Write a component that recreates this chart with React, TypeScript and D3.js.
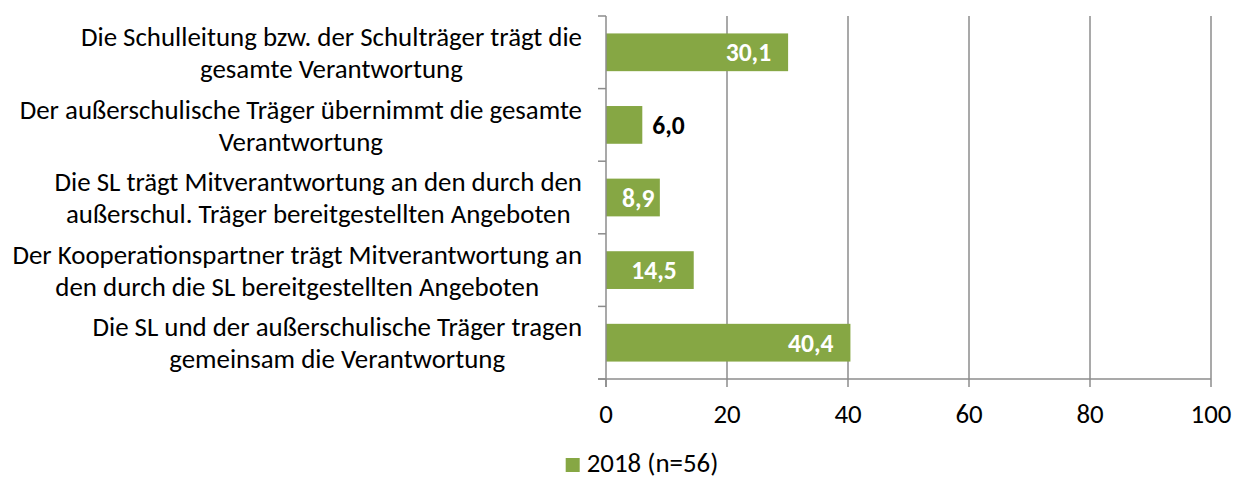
import * as d3 from 'd3';
import React, { useEffect, useRef } from 'react';

const categories: string[][] = [
    ['Die Schulleitung bzw. der Schulträger trägt die', 'gesamte Verantwortung'],
    ['Der außerschulische Träger übernimmt die gesamte', 'Verantwortung'],
    ['Die SL trägt Mitverantwortung an den durch den', 'außerschul. Träger bereitgestellten Angeboten'],
    ['Der Kooperationspartner trägt Mitverantwortung an', 'den durch die SL bereitgestellten Angeboten'],
    ['Die SL und der außerschulische Träger tragen', 'gemeinsam die Verantwortung'],
];
const values2018 = [30.1, 6.0, 8.9, 14.5, 40.4];
const xTicks = [0, 20, 40, 60, 80, 100];
const seriesName = '2018 (n=56)';

const WIDTH = 1234;
const HEIGHT = 480;
const FONT = 'Carlito, Calibri, "Open Sans", sans-serif';
const GREEN = '#86a744';
const GRID = '#8c8c8c';

export default function App() {
    const ref = useRef<SVGSVGElement | null>(null);

    useEffect(() => {
        const el = ref.current;
        if (!el) return;
        document.body.style.margin = '0';

        const left = 606, right = 1211, top = 16, bottom = 379;
        const x = d3.scaleLinear([0, 100], [left, right]);
        const y = d3.scaleBand<number>(d3.range(categories.length), [top, bottom]).paddingInner(0.48).paddingOuter(0.24);
        const band = (bottom - top) / categories.length;

        const svg = d3.select(el);
        svg.selectAll('*').remove();
        svg.attr('font-family', FONT);

        // category labels first, to find the font size that fits the reference width
        const labelRight = 582;
        const lineGap = 32;
        const groups = categories.map((lines, i) => {
            const cy = top + band * (i + 0.5);
            return svg.append('g').selectAll('text').data(lines).join('text')
                .attr('y', (_d, j) => cy + (j - (lines.length - 1) / 2) * lineGap)
                .attr('dy', '0.36em')
                .attr('text-anchor', 'middle')
                .attr('font-size', 20)
                .attr('fill', '#000')
                .text(d => d);
        });
        let widest = 0;
        groups.forEach(t => t.each(function () {
            widest = Math.max(widest, (this as SVGTextElement).getComputedTextLength());
        }));
        const fs = 20 * 570 / widest;
        groups.forEach(t => {
            t.attr('font-size', fs);
            let maxW = 0;
            t.each(function () {
                maxW = Math.max(maxW, (this as SVGTextElement).getComputedTextLength());
            });
            t.attr('x', labelRight - maxW / 2);
        });

        // vertical grid lines
        svg.append('g').selectAll('line').data(xTicks.slice(1)).join('line')
            .attr('x1', d => x(d)).attr('x2', d => x(d))
            .attr('y1', top).attr('y2', bottom)
            .attr('stroke', GRID).attr('stroke-width', 1.5);

        // bars
        svg.append('g').selectAll('rect').data(values2018).join('rect')
            .attr('x', x(0))
            .attr('y', (_d, i) => y(i)!)
            .attr('width', d => x(d) - x(0))
            .attr('height', y.bandwidth())
            .attr('fill', GREEN);

        // value labels: inside end, or outside when the bar is too short
        const fmt = (v: number) => v.toFixed(1).replace('.', ',');
        const vals = svg.append('g').selectAll('text').data(values2018).join('text')
            .attr('y', (_d, i) => y(i)! + y.bandwidth() / 2)
            .attr('dy', '0.36em')
            .attr('font-weight', 'bold')
            .attr('font-size', fs * 0.95)
            .attr('fill', d => d < 8 ? '#000' : '#fff')
            .text(d => fmt(d));
        vals.each(function (d) {
            const w = (this as SVGTextElement).getComputedTextLength();
            const start = d < 8 ? x(d) + 10 : Math.max(x(d) - 17, x(0) + 16 + w) - w;
            d3.select(this).attr('x', start);
        });

        // left axis
        svg.append('line')
            .attr('x1', left).attr('x2', left).attr('y1', top).attr('y2', bottom + 8)
            .attr('stroke', GRID).attr('stroke-width', 1.5);
        svg.append('g').selectAll('line').data(d3.range(categories.length + 1)).join('line')
            .attr('x1', left - 8).attr('x2', left)
            .attr('y1', d => top + d * band).attr('y2', d => top + d * band)
            .attr('stroke', GRID).attr('stroke-width', 1.5);

        // bottom axis
        svg.append('line')
            .attr('x1', left - 8).attr('x2', right).attr('y1', bottom).attr('y2', bottom)
            .attr('stroke', GRID).attr('stroke-width', 1.5);
        svg.append('g').selectAll('line').data(xTicks).join('line')
            .attr('x1', d => x(d)).attr('x2', d => x(d))
            .attr('y1', bottom).attr('y2', bottom + 8)
            .attr('stroke', GRID).attr('stroke-width', 1.5);
        svg.append('g').selectAll('text').data(xTicks).join('text')
            .attr('x', d => x(d)).attr('y', 413)
            .attr('dy', '0.36em')
            .attr('text-anchor', 'middle')
            .attr('font-size', fs)
            .attr('fill', '#000')
            .text(d => d);

        // legend
        const legend = svg.append('g');
        const lt = legend.append('text')
            .attr('y', 463).attr('dy', '0.34em')
            .attr('font-size', fs).attr('fill', '#000')
            .text(seriesName);
        const tw = (lt.node() as SVGTextElement).getComputedTextLength();
        const lx = 642 - (14 + 7 + tw) / 2;
        legend.append('rect')
            .attr('x', lx).attr('y', 458).attr('width', 14).attr('height', 14)
            .attr('fill', GREEN);
        lt.attr('x', lx + 21);
    }, []);

    return <svg ref={ref} width={WIDTH} height={HEIGHT} style={{ display: 'block' }} />;
}
